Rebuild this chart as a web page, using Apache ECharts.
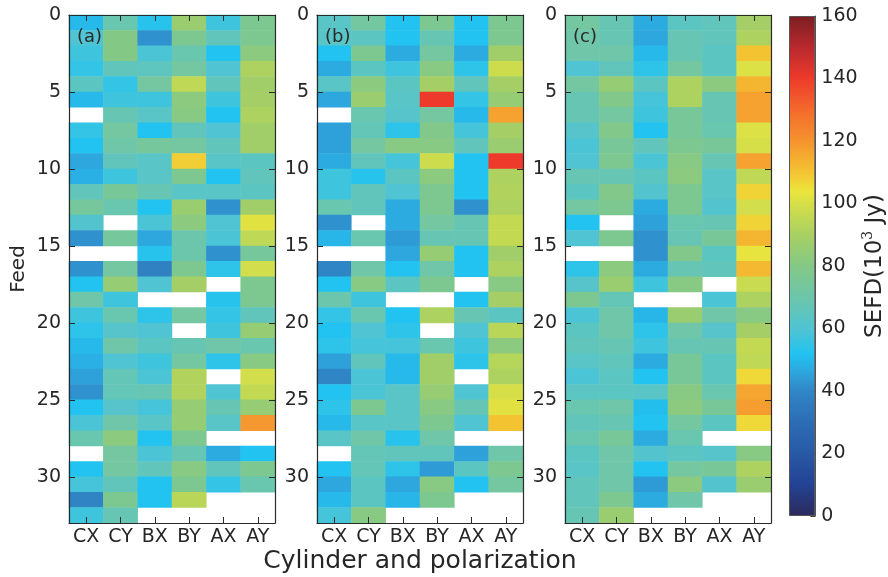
<!DOCTYPE html>
<html><head><meta charset="utf-8">
<script src="https://cdn.jsdelivr.net/npm/echarts@6/dist/echarts.min.js"></script>
<style>html,body{margin:0;padding:0;background:#fff}#c{width:888px;height:577px}</style>
</head><body><div id="c"></div>
<script>
// ---------------- data ----------------
const COLS = ['CX', 'CY', 'BX', 'BY', 'AX', 'AY'];
const N_FEEDS = 33;
const FEED_TICK_STEP = 5;
const CBAR_MIN = 0, CBAR_MAX = 160, CBAR_STEP = 20;
const PANEL_LABELS = ['(a)', '(b)', '(c)'];

// panel (a)
const a_CX = [50,60,57,55,64,50,null,55,52,46,48,66,74,61,42,null,42,52,71,57,54,50,48,45,42,52,59,69,null,52,58,39,57];
const a_CY = [69,80,80,66,55,57,68,73,71,66,57,75,69,null,74,null,73,85,57,69,62,71,60,67,67,62,71,82,73,73,66,77,68];
const a_BX = [53,42,59,65,73,57,63,52,74,63,63,68,52,59,46,53,38,60,null,54,60,64,57,59,68,58,63,52,59,66,52,52,null];
const a_BY = [86,77,69,73,95,82,81,66,73,108,77,63,86,82,70,70,77,89,null,73,null,68,73,92,92,85,85,77,68,81,77,94,null];
const a_AX = [57,66,52,60,66,57,52,60,66,63,52,63,42,60,59,42,54,null,53,55,57,71,54,null,60,68,63,null,47,66,55,null,null];
const a_AY = [77,77,82,91,88,89,91,88,88,64,66,64,88,102,95,74,99,77,77,66,85,69,81,99,96,85,119,null,52,77,69,null,null];
// panel (b)
const b_CX = [63,63,52,47,63,46,null,45,45,47,57,57,69,42,49,null,40,52,70,55,52,54,45,40,52,54,50,63,null,52,46,50,58];
const b_CY = [73,64,77,64,82,86,69,67,73,66,53,66,66,null,69,null,71,81,57,69,60,58,66,59,59,77,63,71,67,67,64,64,81];
const b_BX = [52,52,47,57,64,63,62,54,81,58,64,60,47,47,44,46,52,64,null,52,54,58,50,50,63,63,63,53,66,54,46,49,null];
const b_BY = [77,68,73,81,89,140,73,79,81,98,82,77,77,73,68,85,71,77,null,91,null,69,88,88,85,81,77,71,66,44,81,77,null];
const b_AX = [52,52,47,54,66,55,50,58,66,52,52,52,42,68,68,52,52,null,52,68,60,57,54,null,60,68,60,null,45,64,52,null,null];
const b_AY = [77,77,88,98,89,85,117,89,86,140,91,92,91,96,96,88,91,81,89,64,94,82,93,91,100,102,110,null,71,77,73,null,null];
// panel (c)
const c_CX = [73,71,71,60,73,68,68,62,59,60,68,64,73,52,60,null,54,62,77,59,64,66,63,59,64,69,66,69,64,63,66,66,68];
const c_CY = [68,68,71,66,85,79,73,79,75,77,68,79,77,null,77,null,82,86,67,71,71,68,66,64,64,71,68,75,71,71,71,77,86];
const c_BX = [47,46,50,54,64,58,57,52,66,59,64,61,47,45,42,42,47,57,null,49,54,57,47,52,63,51,52,47,61,52,44,47,null];
const c_BY = [64,68,68,73,91,91,75,75,77,81,82,77,77,69,68,79,68,81,null,86,71,68,75,75,81,82,73,69,64,73,82,71,null];
const c_AX = [66,66,64,64,82,68,68,69,75,68,63,63,61,68,75,64,66,null,59,71,62,68,64,64,69,75,64,null,62,75,61,null,null];
const c_AY = [89,91,110,101,113,117,117,101,100,117,95,107,99,107,113,103,112,97,91,81,89,96,95,106,116,118,106,null,81,91,86,null,null];

const PANELS = [
  [a_CX, a_CY, a_BX, a_BY, a_AX, a_AY],
  [b_CX, b_CY, b_BX, b_BY, b_AX, b_AY],
  [c_CX, c_CY, c_BX, c_BY, c_AX, c_AY]
];

// ---------------- style ----------------
const CMAP_ANCHORS = [[0,'#2c2a5c'],[10,'#234293'],[20,'#2859a5'],[30,'#2c6db5'],[40,'#3086c5'],[46,'#2ea6de'],
  [52,'#22c3f0'],[60,'#50c4d2'],[70,'#6cc6ab'],[80,'#84c886'],[90,'#a8d062'],[100,'#d6df48'],[104,'#ece43c'],
  [110,'#f4c332'],[120,'#f5932e'],[130,'#f36a2c'],[140,'#ee3a2b'],[150,'#b8292e'],[160,'#7b1f22']];
function hex2rgb(h){return [1,3,5].map(i=>parseInt(h.substr(i,2),16));}
function cmapAt(v){
  for(let k=0;k<CMAP_ANCHORS.length-1;k++){
    const [v0,c0]=CMAP_ANCHORS[k],[v1,c1]=CMAP_ANCHORS[k+1];
    if(v>=v0&&v<=v1){const t=(v-v0)/(v1-v0);const a=hex2rgb(c0),b=hex2rgb(c1);
      return 'rgb('+a.map((x,i)=>Math.round(x+(b[i]-x)*t)).join(',')+')';}
  }
  return CMAP_ANCHORS[CMAP_ANCHORS.length-1][1];
}
const CMAP = [];
for(let v=CBAR_MIN; v<=CBAR_MAX; v+=2) CMAP.push(cmapAt(v));

const FONT = 'DejaVu Sans';
const TXT = '#262626';
const LINE = '#2a2a2a';
const GRID_LEFT = [69, 317, 565];
const GRID_TOP = 15, GRID_W = 206, GRID_H = 508;

const ROWS = Array.from({length: N_FEEDS}, (_, i) => String(i));

const frameLine = {show: true, onZero: false, lineStyle: {color: LINE, width: 1.2}};
const grid = [], xAxis = [], yAxis = [], series = [], graphic = [];
PANELS.forEach((cols, p) => {
  grid.push({left: GRID_LEFT[p], top: GRID_TOP, width: GRID_W, height: GRID_H, containLabel: false});
  const xb = xAxis.length;
  xAxis.push({type: 'category', gridIndex: p, data: COLS, position: 'bottom', z: 5,
    axisLine: frameLine,
    axisTick: {show: true, inside: true, alignWithLabel: true, length: 6, lineStyle: {color: LINE}},
    axisLabel: {fontFamily: FONT, fontSize: 19, color: TXT, margin: 5},
    splitLine: {show: false}});
  xAxis.push({type: 'category', gridIndex: p, data: COLS, position: 'top', z: 5,
    axisLine: frameLine,
    axisTick: {show: true, inside: true, alignWithLabel: true, length: 6, lineStyle: {color: LINE}},
    axisLabel: {show: false}, splitLine: {show: false}});
  const yc = yAxis.length;
  yAxis.push({type: 'category', gridIndex: p, data: ROWS, inverse: true, show: false});
  const yValBase = {type: 'value', gridIndex: p, min: 0, max: N_FEEDS, interval: FEED_TICK_STEP, inverse: true, z: 5,
    axisLine: frameLine,
    axisTick: {show: true, inside: true, length: 6, lineStyle: {color: LINE}},
    splitLine: {show: false}};
  yAxis.push(Object.assign({}, yValBase, {position: 'left',
    axisLabel: {fontFamily: FONT, fontSize: 19, color: TXT, margin: 8, showMaxLabel: false,
      formatter: v => (v % FEED_TICK_STEP === 0 ? String(v) : '')},
    name: p === 0 ? 'Feed' : '', nameLocation: 'middle', nameRotate: 90, nameGap: 40,
    nameTextStyle: {fontFamily: FONT, fontSize: 20, color: TXT}}));
  yAxis.push(Object.assign({}, yValBase, {position: 'right', axisLabel: {show: false}}));
  const data = [];
  cols.forEach((arr, j) => arr.forEach((v, i) => { if (v !== null) data.push([j, i, v]); }));
  series.push({type: 'heatmap', xAxisIndex: xb, yAxisIndex: yc, data: data,
    itemStyle: {borderWidth: 0}, emphasis: {disabled: true}, silent: true});
  graphic.push({type: 'text', x: GRID_LEFT[p] + 8, y: 37, z: 10,
    style: {text: PANEL_LABELS[p], fontFamily: FONT, fontSize: 18, fill: '#2a2a2a', verticalAlign: 'middle', align: 'left'}});
});

// colour bar
grid.push({left: 789, top: 16, width: 27, height: 500});
const cbx = xAxis.length;
xAxis.push({type: 'category', gridIndex: 3, data: ['cbar'], show: false});
const cby = yAxis.length;
yAxis.push({type: 'value', gridIndex: 3, min: CBAR_MIN, max: CBAR_MAX, interval: CBAR_STEP, position: 'right',
  axisLine: {show: true, onZero: false, lineStyle: {color: '#555'}},
  axisTick: {show: true, inside: true, length: 5, lineStyle: {color: '#444'}},
  axisLabel: {fontFamily: FONT, fontSize: 19, color: TXT, margin: 6},
  splitLine: {show: false},
  name: 'SEFD(10{sup|3} Jy)', nameLocation: 'middle', nameRotate: 90, nameGap: 44,
  nameTextStyle: {fontFamily: FONT, fontSize: 23, color: TXT,
    rich: {sup: {fontFamily: 'DejaVu Serif', fontSize: 14, color: TXT, verticalAlign: 'top', lineHeight: 28}}}});
series.push({type: 'bar', xAxisIndex: cbx, yAxisIndex: cby, data: [CBAR_MAX], barWidth: '100%', silent: true,
  itemStyle: {borderColor: '#555', borderWidth: 1,
    color: {type: 'linear', x: 0, y: 1, x2: 0, y2: 0,
      colorStops: CMAP_ANCHORS.map(([v, c]) => ({offset: (v - CBAR_MIN) / (CBAR_MAX - CBAR_MIN), color: c}))}}});

graphic.push({type: 'text', x: 420, y: 561,
  style: {text: 'Cylinder and polarization', fontFamily: FONT, fontSize: 25, fill: TXT, align: 'center', verticalAlign: 'middle'}});

const chart = echarts.init(document.getElementById('c'), null, {renderer: 'canvas'});
chart.setOption({
  animation: false,
  backgroundColor: '#fff',
  grid, xAxis, yAxis, series, graphic,
  visualMap: {type: 'continuous', show: false, min: CBAR_MIN, max: CBAR_MAX, seriesIndex: [0, 1, 2], dimension: 2,
    inRange: {color: CMAP}}
});
</script></body></html>
